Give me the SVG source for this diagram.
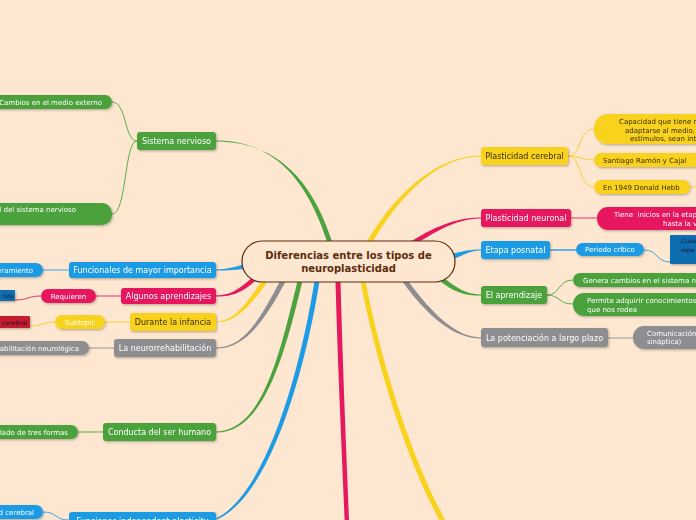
<svg xmlns="http://www.w3.org/2000/svg" width="696" height="520" viewBox="0 0 696 520">
<defs>
<filter id="sh" x="-10%" y="-20%" width="130%" height="160%"><feDropShadow dx="1" dy="1.2" stdDeviation="0.8" flood-color="#000" flood-opacity="0.28"/></filter>
<style>
text{font-family:"DejaVu Sans","Verdana",sans-serif;}
.m{font-size:8px;fill:#fff;text-anchor:middle}
.md{font-size:8px;fill:#3a2e05;text-anchor:middle}
.s{font-size:7px;fill:#fff}
.sd{font-size:7px;fill:#3a2e05}
.t{font-size:6px;fill:#1a1a2a}
.g{fill:#4ca23e}.b{fill:#1e9be5}.p{fill:#e6195e}.y{fill:#f8d21c}.k{fill:#8e8e90}.db{fill:#0b6db0}.r{fill:#c21a2e}
.cg{stroke:#5aad48;fill:none;stroke-width:1}.cb{stroke:#3aa6e8;fill:none;stroke-width:1}.cp{stroke:#e8306c;fill:none;stroke-width:1}.cy{stroke:#f5d232;fill:none;stroke-width:1}.ck{stroke:#99999b;fill:none;stroke-width:1}
.n{filter:url(#sh)}
</style>
</defs>
<rect width="696" height="520" fill="#fde7d0"/>
<g id="connectors">
<path class="g" d="M327.5,243 C307.5,180 274,140.4 216,140.4 L216,141.6 C277,141.6 312.5,180 332.5,243 Z"/>
<path class="b" d="M247,263.5 C236,266.5 228,269.4 216,269.4 L216,270.6 C228,270.6 237,270 247,268.5 Z"/>
<path class="p" d="M254.5,275.3 C238.5,290.2 230,295.4 216,295.4 L216,296.6 C230,296.6 241.5,293.8 257.5,278.8 Z"/>
<path class="y" d="M263,279.6 C246,303.6 235,321.4 216,321.4 L216,322.6 C235,322.6 250,306.4 267,282.4 Z"/>
<path class="k" d="M280.8,279.8 C259.8,318.8 245,347.4 216,347.4 L216,348.6 C245,348.6 264.2,321.2 285.2,282.2 Z"/>
<path class="g" d="M297.5,281 C279.5,355 262,431.4 216,431.4 L216,432.6 C264,432.6 284.5,355 302.5,281 Z"/>
<path class="b" d="M314.5,281 C300.5,370 266,494 216,518.4 L216.6,519.6 C270,497 305.5,370 319.5,281 Z"/>
<path class="p" d="M335.5,281 C337.5,360 341.8,450 344.8,525 L349.2,525 C346.2,450 342.5,360 340.5,281 Z"/>
<path class="y" d="M360.5,281 C375.5,360 405.8,461.2 442.8,526.2 L447.2,523.8 C411,458.8 380.5,360 365.5,281 Z"/>
<path class="k" d="M407,279.5 C432,313.5 456,337.4 481,337.4 L481,338.6 C454,338.6 428,316.5 403,282.5 Z"/>
<path class="g" d="M441.5,276.1 C456.5,288.1 466,294.4 481,294.4 L481,295.6 C464,295.6 453.5,291.9 438.5,279.9 Z"/>
<path class="b" d="M453,253.5 C463,251 470,249.4 481,249.4 L481,250.6 C470,250.6 464,255 455,258.5 Z"/>
<path class="p" d="M411.7,241 C438.7,224 460,217.4 481,217.4 L481,218.6 C460,218.6 441.3,228 414.3,245 Z"/>
<path class="y" d="M366.8,241.7 C397.8,188.7 440,155.4 481,155.4 L481,156.6 C440,156.6 402.2,191.3 371.2,244.3 Z"/>
<path class="cg" d="M137,141 C124,141 127,102 112,102"/>
<path class="cg" d="M137,141 C124,141 127,214 112,214"/>
<path class="cb" d="M69,270 L43,270"/>
<path class="cp" d="M121,296 L96,296"/>
<path class="cp" d="M41,296 C28,296 28,300 15,300"/>
<path class="cy" d="M130,322 L105,322"/>
<path class="cy" d="M55,322 C42,322 43,326 30,326"/>
<path class="ck" d="M114,348 L89,348"/>
<path class="cg" d="M103,432 L78,432"/>
<path class="cb" d="M69,520 C55,520 57,512 43,512"/>
<path class="cy" d="M568,156 C582,156 578,129 594,129"/>
<path class="cy" d="M568,156 C580,156 582,160 594,160"/>
<path class="cy" d="M568,156 C582,156 578,187 594,187"/>
<path class="cy" d="M690,187 L696,187"/>
<path class="cp" d="M571,218 L597,218"/>
<path class="cb" d="M550,250 L576,250" style="stroke-width:1.6"/>
<path class="cb" d="M644,250 C658,250 656,262 670,262"/>
<path class="cg" d="M547,295 C560,295 558,280 573,280"/>
<path class="cg" d="M547,295 C560,295 558,304 573,304"/>
<path class="ck" d="M608,338 L633,338"/>
</g>
<g id="root">
<rect x="242" y="241" width="213" height="41" rx="20" fill="#fde7d0" stroke="#5b2c0f" stroke-width="1.2"/>
<text x="348.5" y="259" font-size="10" font-weight="bold" fill="#5b2c0f" text-anchor="middle">Diferencias entre los tipos de</text>
<text x="348.5" y="272" font-size="10" font-weight="bold" fill="#5b2c0f" text-anchor="middle">neuroplasticidad</text>
</g>
<g id="sistema-nervioso" class="n"><rect class="g" x="137" y="132" width="79" height="18" rx="3"/><text class="m" x="176.5" y="144">Sistema nervioso</text></g>
<g id="cambios" class="n"><rect class="g" x="-20" y="95" width="132" height="14" rx="7"/><text class="s" x="102" y="104.5" text-anchor="end">Cambios en el medio externo</text></g>
<g id="del-sistema" class="n"><rect class="g" x="-20" y="203" width="132" height="22" rx="10"/><text class="s" x="76" y="212" text-anchor="end">l del sistema nervioso</text></g>
<g id="funcionales" class="n"><rect class="b" x="69" y="262" width="147" height="16" rx="3"/><text class="m" x="142.5" y="273">Funcionales de mayor importancia</text></g>
<g id="eramiento" class="n"><rect class="b" x="-20" y="263" width="63" height="14" rx="7"/><text class="s" x="33" y="272.5" text-anchor="end">eramiento</text></g>
<g id="algunos" class="n"><rect class="p" x="121" y="288" width="95" height="16" rx="3"/><text class="m" x="168.5" y="299">Algunos aprendizajes</text></g>
<g id="requieren" class="n"><rect class="p" x="41" y="289" width="55" height="14" rx="7"/><text class="s" x="68.5" y="298.5" text-anchor="middle">Requieren</text></g>
<g id="nza" class="n"><rect class="db" x="-10" y="290" width="25" height="11" rx="1"/><text class="t" x="13" y="298" text-anchor="end">nza</text></g>
<g id="durante" class="n"><rect class="y" x="130" y="313" width="86" height="18" rx="3"/><text class="md" x="173" y="325">Durante la infancia</text></g>
<g id="subtopic" class="n"><rect class="y" x="55" y="315" width="50" height="14" rx="7"/><text class="s" x="80" y="324.5" text-anchor="middle">Subtopic</text></g>
<g id="cerebral-red" class="n"><rect class="r" x="-10" y="316" width="40" height="12" rx="1"/><text class="t" x="27" y="324.5" text-anchor="end">cerebral</text></g>
<g id="neurorrehab" class="n"><rect class="k" x="114" y="339" width="102" height="18" rx="3"/><text class="m" x="165" y="351">La neurorrehabilitación</text></g>
<g id="rehab-child" class="n"><rect class="k" x="-20" y="341" width="109" height="14" rx="7"/><text class="s" x="79" y="350.5" text-anchor="end">abilitación neurológica</text></g>
<g id="conducta" class="n"><rect class="g" x="103" y="423" width="113" height="18" rx="3"/><text class="m" x="159.5" y="435">Conducta del ser humano</text></g>
<g id="tres-formas" class="n"><rect class="g" x="-20" y="425" width="98" height="14" rx="7"/><text class="s" x="68" y="434.5" text-anchor="end">lado de tres formas</text></g>
<g id="funciones-indep" class="n"><rect class="b" x="69" y="512" width="147" height="18" rx="3"/><text class="m" x="142.5" y="524">Funciones independent plasticity</text></g>
<g id="d-cerebral" class="n"><rect class="b" x="-20" y="505" width="63" height="14" rx="7"/><text class="s" x="34" y="514.5" text-anchor="end">d cerebral</text></g>
<g id="plasticidad-cerebral" class="n"><rect class="y" x="481" y="147" width="87" height="18" rx="3"/><text class="md" x="524.5" y="159">Plasticidad cerebral</text></g>
<g id="capacidad" class="n"><rect class="y" x="594" y="114" width="130" height="30" rx="14"/><text class="sd" x="619" y="124">Capacidad que tiene n</text><text class="sd" x="625" y="132.5">adaptarse al medio,</text><text class="sd" x="630" y="141">estímulos, sean int</text></g>
<g id="cajal" class="n"><rect class="y" x="594" y="153" width="120" height="14" rx="7"/><text class="sd" x="603" y="162.5">Santiago Ramón y Cajal</text></g>
<g id="hebb" class="n"><rect class="y" x="594" y="180" width="96" height="14" rx="7"/><text class="sd" x="603" y="189.5">En 1949 Donald Hebb</text></g>
<g id="plasticidad-neuronal" class="n"><rect class="p" x="481" y="209" width="90" height="18" rx="3"/><text class="m" x="526" y="221">Plasticidad neuronal</text></g>
<g id="tiene" class="n"><rect class="p" x="597" y="207" width="130" height="23" rx="11"/><text class="s" x="614" y="216.5">Tiene &#160;inicios en la etap</text><text class="s" x="663" y="225.5">hasta la v</text></g>
<g id="etapa" class="n"><rect class="b" x="481" y="241" width="69" height="18" rx="3"/><text class="m" x="515.5" y="253">Etapa posnatal</text></g>
<g id="periodo" class="n"><rect class="b" x="576" y="243" width="68" height="13" rx="6.5"/><text class="s" x="610" y="252" text-anchor="middle">Periodo crítico</text></g>
<g id="cuale" class="n"><rect class="db" x="670" y="235" width="40" height="29" rx="1"/><text class="t" x="681" y="243">Cuale</text><text class="t" x="681" y="252">repe</text></g>
<g id="aprendizaje" class="n"><rect class="g" x="481" y="286" width="66" height="18" rx="3"/><text class="m" x="514" y="298">El aprendizaje</text></g>
<g id="genera" class="n"><rect class="g" x="573" y="273" width="140" height="14" rx="7"/><text class="s" x="583" y="282.5">Genera cambios en el sistema ne</text></g>
<g id="permite" class="n"><rect class="g" x="573" y="293" width="140" height="23" rx="11"/><text class="s" x="587" y="302.5">Permite adquirir conocimientos</text><text class="s" x="587" y="311.5">que nos rodea</text></g>
<g id="potenciacion" class="n"><rect class="k" x="481" y="328" width="127" height="19" rx="3"/><text class="m" x="544.5" y="340.5">La potenciación a largo plazo</text></g>
<g id="comunicacion" class="n"><rect class="k" x="633" y="326" width="80" height="23" rx="11"/><text class="s" x="647" y="335.5">Comunicación</text><text class="s" x="647" y="344">sináptica)</text></g>
</svg>
